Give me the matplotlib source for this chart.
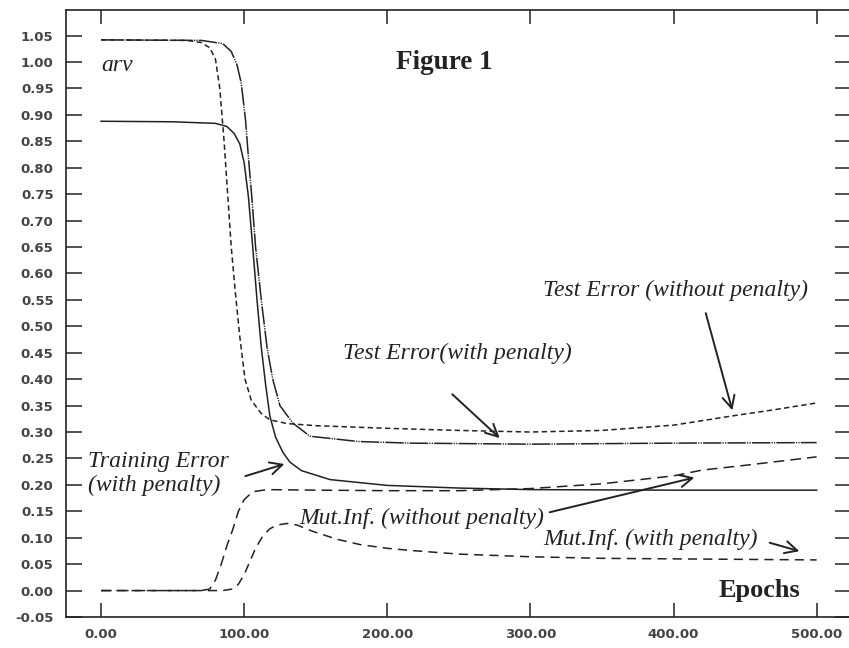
import matplotlib
matplotlib.use("Agg")
import matplotlib.pyplot as plt

# epochs / arv values
train_pen_x = [0, 50, 80, 88, 93, 97, 100, 103, 106, 109, 112, 115, 118, 122, 127, 132, 140, 160, 200, 250, 300, 400, 500]
train_pen_y = [0.888, 0.887, 0.884, 0.878, 0.865, 0.845, 0.81, 0.745, 0.65, 0.55, 0.46, 0.39, 0.33, 0.29, 0.262, 0.243, 0.227, 0.21, 0.199, 0.194, 0.191, 0.19, 0.19]

test_pen_x = [0, 70, 85, 91, 95, 98, 101, 103, 105.5, 108, 112, 116, 120, 125, 134, 146, 180, 216, 300, 400, 500]
test_pen_y = [1.042, 1.041, 1.035, 1.02, 0.995, 0.96, 0.89, 0.82, 0.74, 0.65, 0.55, 0.46, 0.40, 0.35, 0.317, 0.292, 0.282, 0.279, 0.277, 0.279, 0.28]

test_nopen_x = [0, 60, 70, 76, 80, 83, 86, 88.5, 91, 94, 97, 100.6, 105, 112, 118, 130, 150, 200, 250, 300, 350, 400, 440, 470, 500]
test_nopen_y = [1.042, 1.041, 1.037, 1.027, 1.005, 0.95, 0.85, 0.75, 0.65, 0.56, 0.48, 0.40, 0.36, 0.335, 0.323, 0.316, 0.312, 0.307, 0.303, 0.30, 0.303, 0.313, 0.33, 0.342, 0.355]

mi_nopen_x = [0, 70, 76, 80, 84, 88, 92, 96, 100, 106, 116, 150, 200, 250, 300, 350, 400, 420, 450, 500]
mi_nopen_y = [0.0, 0.0, 0.003, 0.02, 0.05, 0.085, 0.115, 0.15, 0.172, 0.187, 0.191, 0.19, 0.189, 0.189, 0.193, 0.202, 0.217, 0.228, 0.237, 0.253]

mi_pen_x = [0, 85, 92, 96, 100, 104, 108, 113, 118, 123, 130, 137, 148, 165, 181, 200, 216, 250, 300, 350, 400, 450, 500]
mi_pen_y = [0.0, 0.0, 0.003, 0.012, 0.03, 0.055, 0.08, 0.103, 0.117, 0.124, 0.127, 0.124, 0.112, 0.097, 0.087, 0.08, 0.076, 0.069, 0.064, 0.061, 0.06, 0.059, 0.058]

xticks = [0, 100, 200, 300, 400, 500]
yticks = [round(-0.05 + 0.05 * i, 2) for i in range(23)]

W, H = 849, 648
fig = plt.figure(figsize=(W / 100, H / 100), dpi=100)
ax = fig.add_axes([66 / W, 1 - 617 / H, (851 - 66) / W, (617 - 10) / H])

ink = "#222222"
ax.plot(train_pen_x, train_pen_y, color=ink, lw=1.1)
ax.plot(test_pen_x, test_pen_y, color=ink, lw=1.1, dashes=(12, 0.8, 0.8, 0.8, 0.8, 0.8))
ax.plot(test_nopen_x, test_nopen_y, color=ink, lw=1.1, dashes=(3.5, 2.2))
ax.plot(mi_nopen_x, mi_nopen_y, color=ink, lw=1.1, dashes=(7, 4))
ax.plot(mi_pen_x, mi_pen_y, color=ink, lw=1.1, dashes=(6, 4))

ax.set_xlim(-24.45, 524.0)
ax.set_ylim(-0.05, 1.0985)
ax.set_xticks(xticks)
ax.set_xticklabels([f"{v:.2f}" for v in xticks])
ax.set_yticks(yticks)
ax.set_yticklabels([f"{v:.2f}" for v in yticks])
ax.tick_params(axis="x", direction="in", length=10, width=1.1, top=True, pad=8,
               labelsize=9.5, colors=ink)
ax.tick_params(axis="y", direction="in", length=11.5, width=1.1, right=True, pad=9,
               labelsize=9.5, colors=ink)
for lab in ax.get_xticklabels() + ax.get_yticklabels():
    lab.set_fontweight("bold")
    lab.set_color("#444444")
for s in ax.spines.values():
    s.set_linewidth(1.2)
    s.set_color(ink)

serif = "Liberation Serif"
it = dict(family=serif, style="italic", fontsize=17, color=ink)
arw = dict(arrowstyle="->", color=ink, lw=1.4, mutation_scale=22)

ax.text(240, 1.0, "Figure 1", family=serif, weight="bold", fontsize=19.5, ha="center", va="center", color=ink)
ax.text(0, 0.993, "arv", ha="left", va="center", **it)
ax.text(460, 0.0, "Epochs", family=serif, weight="bold", fontsize=19, ha="center", va="center", color=ink)

ax.text(401.7, 0.568, "Test Error (without penalty)", ha="center", va="center", **it)
ax.annotate("", xy=(441.6, 0.336), xytext=(422, 0.53), arrowprops=arw)

ax.text(248.7, 0.449, "Test Error(with penalty)", ha="center", va="center", **it)
ax.annotate("", xy=(280, 0.285), xytext=(244, 0.375), arrowprops=arw)

ax.text(-9, 0.222, "Training Error\n(with penalty)", ha="left", va="center", linespacing=1.15, **it)
ax.annotate("", xy=(130, 0.241), xytext=(99, 0.215), arrowprops=arw)

ax.text(224, 0.137, "Mut.Inf. (without penalty)", ha="center", va="center", **it)
ax.annotate("", xy=(416.5, 0.215), xytext=(311.6, 0.147), arrowprops=arw)

ax.text(383.6, 0.096, "Mut.Inf. (with penalty)", ha="center", va="center", **it)
ax.annotate("", xy=(489.8, 0.073), xytext=(465.3, 0.092), arrowprops=arw)

fig.savefig("out.png", dpi=100)
